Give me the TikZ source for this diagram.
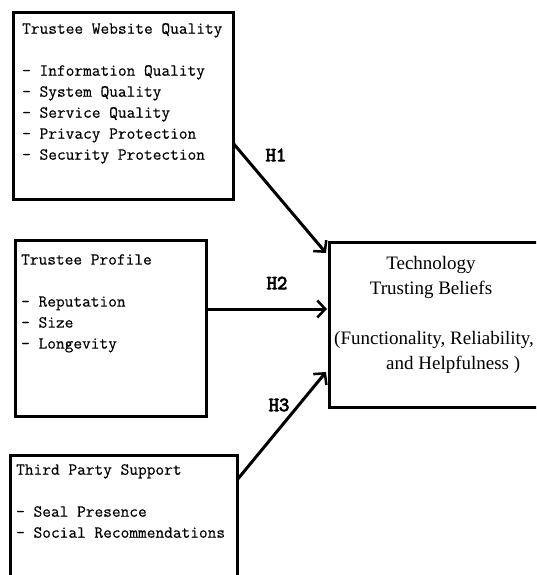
\documentclass[tikz,border=0pt]{standalone}
\usepackage{fontspec}
\setmainfont{Liberation Serif}
\newfontfamily\boxmono[FakeBold=0.4]{Latin Modern Mono}
\newfontfamily\hypmono[FakeBold=4]{Latin Modern Mono}
\usetikzlibrary{arrows.meta}
\begin{document}
\begin{tikzpicture}[x=1pt,y=-1pt,
  boxframe/.style={draw, line width=3pt, inner sep=0pt},
  boxtext/.style={anchor=north west, inner sep=0pt, align=left,
    font=\boxmono\fontsize{16.9}{21}\selectfont},
  hyplabel/.style={inner sep=0pt, font=\hypmono\fontsize{20}{20}\selectfont},
  conn/.style={line width=3pt, -{Straight Barb[length=8pt,width=17pt,line width=2.5pt]}},
  serif/.style={inner sep=0pt, font=\fontsize{19}{25}\selectfont}]
\clip (0,0) rectangle (536,575);
\fill[white] (0,0) rectangle (536,575);
% boxes
\node[boxframe, minimum width=220pt, minimum height=187pt, anchor=north west] (b1) at (12,11) {};
\node[boxframe, minimum width=191pt, minimum height=176pt, anchor=north west] (b2) at (14,239) {};
\node[boxframe, minimum width=227pt, minimum height=160pt, anchor=north west] (b3) at (9,454) {};
\node[boxframe, minimum width=216pt, minimum height=165pt, anchor=north west] (tb) at (328,241) {};
% box texts
\node[boxtext] (t1) at (22,23) {Trustee Website Quality\\[21pt]- Information Quality\\- System Quality\\- Service Quality\\- Privacy Protection\\- Security Protection};
\node[boxtext] (t2) at (21,254) {Trustee Profile\\[21pt]- Reputation\\- Size\\- Longevity};
\node[boxtext] (t3) at (16,464) {Third Party Support\\[21pt]- Seal Presence\\- Social Recommendations};
% target text
\node[serif, align=center] (tt1) at (431,277) {Technology\\Trusting Beliefs};
\node[serif, align=left, anchor=west] (tt2) at (334,352) {(Functionality, Reliability,\\\hspace*{52pt}and Helpfulness )};
% connectors
\coordinate (s1) at (233,143);
\coordinate (e1) at (326,253);
\coordinate (s2) at (205,309);
\coordinate (e2) at (327,309);
\coordinate (s3) at (237,480);
\coordinate (e3) at (326,372);
\draw[conn] (s1) -- (e1);
\draw[conn] (s2) -- (e2);
\draw[conn] (s3) -- (e3);
\node[hyplabel] (h1) at (276,155) {H1};
\node[hyplabel] (h2) at (277,283) {H2};
\node[hyplabel] (h3) at (279,405) {H3};
\end{tikzpicture}
\end{document}
